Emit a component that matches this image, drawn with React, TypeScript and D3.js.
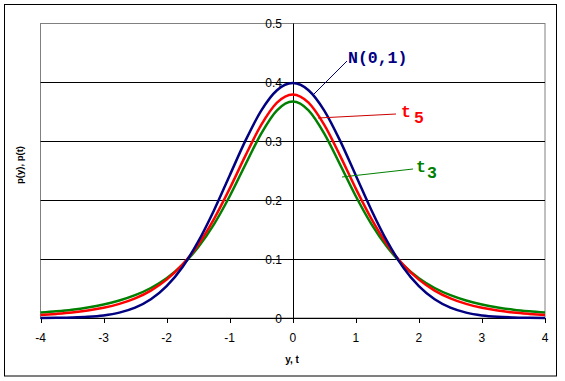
import React from "react";
import * as d3 from "d3";

const xValues = [
  -4, -3.75, -3.5, -3.25, -3, -2.75, -2.5, -2.25, -2, -1.75, -1.5, -1.25, -1, -0.75, -0.5, -0.25,
  0, 0.25, 0.5, 0.75, 1, 1.25, 1.5, 1.75, 2, 2.25, 2.5, 2.75, 3, 3.25, 3.5, 3.75, 4,
];
const normalValues = [
  0.0001, 0.0004, 0.0009, 0.002, 0.0044, 0.0091, 0.0175, 0.0317, 0.054, 0.0863, 0.1295, 0.1826, 0.242, 0.3011, 0.3521, 0.3867,
  0.3989, 0.3867, 0.3521, 0.3011, 0.242, 0.1826, 0.1295, 0.0863, 0.054, 0.0317, 0.0175, 0.0091, 0.0044, 0.002, 0.0009, 0.0004, 0.0001,
];
const t5Values = [
  0.0051, 0.0069, 0.0092, 0.0126, 0.0173, 0.0239, 0.0333, 0.0466, 0.0651, 0.0905, 0.1245, 0.1679, 0.2197, 0.2757, 0.3279, 0.3657,
  0.3796, 0.3657, 0.3279, 0.2757, 0.2197, 0.1679, 0.1245, 0.0905, 0.0651, 0.0466, 0.0333, 0.0239, 0.0173, 0.0126, 0.0092, 0.0069, 0.0051,
];
const t3Values = [
  0.0092, 0.0114, 0.0142, 0.018, 0.023, 0.0297, 0.0387, 0.0509, 0.0675, 0.09, 0.12, 0.1589, 0.2067, 0.2606, 0.3132, 0.3527,
  0.3676, 0.3527, 0.3132, 0.2606, 0.2067, 0.1589, 0.12, 0.09, 0.0675, 0.0509, 0.0387, 0.0297, 0.023, 0.018, 0.0142, 0.0114, 0.0092,
];
const xTicks = [-4, -3, -2, -1, 0, 1, 2, 3, 4];
const yTicks = [0, 0.1, 0.2, 0.3, 0.4, 0.5];
const yTickLabels = ["0", "0.1", "0.2", "0.3", "0.4", "0.5"];

const W = 565;
const H = 381;
const L = 40.5;
const R = 545;
const T = 23.5;
const B = 318;

export default function App() {
  const x = d3.scaleLinear().domain([-4, 4]).range([L, R]);
  const y = d3.scaleLinear().domain([0, 0.5]).range([B, T]);
  const line = (vals: number[]) =>
    d3
      .line<number>()
      .x((_, i) => x(xValues[i]))
      .y((v) => y(v))
      .curve(d3.curveMonotoneX)(vals) as string;

  const axisFont = "Liberation Sans, Arial, sans-serif";
  const labelFont = "Liberation Mono, Courier New, monospace";

  return (
    <svg
      width={W}
      height={H}
      style={{ position: "absolute", left: 0, top: 0, background: "#fff" }}
    >
      <rect x={0} y={0} width={W} height={H} fill="#fff" />
      <rect x={4.5} y={4.5} width={552} height={371.5} fill="none" stroke="#000" strokeWidth={1} />
      {/* plot frame */}
      <rect x={L} y={T} width={R - L} height={B - T} fill="none" stroke="#808080" strokeWidth={1} />
      {/* gridlines */}
      {yTicks.slice(1, 5).map((t) => (
        <line key={t} x1={L} x2={R} y1={Math.round(y(t)) + 0.5} y2={Math.round(y(t)) + 0.5} stroke="#000" strokeWidth={1} />
      ))}
      {/* x axis */}
      <line x1={L} x2={R} y1={B + 0.5} y2={B + 0.5} stroke="#000" />
      {xTicks.map((t) => (
        <g key={t}>
          <line x1={Math.round(x(t)) + 0.5} x2={Math.round(x(t)) + 0.5} y1={B} y2={B + 5} stroke="#000" />
          <text x={x(t)} y={342} textAnchor="middle" fontFamily={axisFont} fontSize={12} fill="#000">
            {t}
          </text>
        </g>
      ))}
      {/* y axis at x=0 */}
      <line x1={Math.round(x(0)) + 0.5} x2={Math.round(x(0)) + 0.5} y1={T} y2={B + 5} stroke="#000" />
      {yTicks.map((t, i) => (
        <text key={t} x={282} y={y(t) + 4.5} textAnchor="end" fontFamily={axisFont} fontSize={12} fill="#000">
          {yTickLabels[i]}
        </text>
      ))}
      {/* axis titles */}
      <text x={292} y={363} textAnchor="middle" fontFamily={axisFont} fontSize={10} fontWeight="bold" fill="#000">
        y, t
      </text>
      <text
        transform={`translate(23,165) rotate(-90)`}
        textAnchor="middle"
        fontFamily={axisFont}
        fontSize={9.5}
        fontWeight="bold"
        fill="#000"
      >
        p(y), p(t)
      </text>
      {/* curves */}
      <path d={line(t3Values)} fill="none" stroke="#008000" strokeWidth={2.5} />
      <path d={line(t5Values)} fill="none" stroke="#ff0000" strokeWidth={2.5} />
      <path d={line(normalValues)} fill="none" stroke="#000080" strokeWidth={2.5} />
      {/* leader lines */}
      <line x1={313} y1={95} x2={347} y2={61} stroke="#000080" strokeWidth={1} />
      <line x1={318} y1={118} x2={396} y2={114} stroke="#cc0000" strokeWidth={1} />
      <line x1={342} y1={177} x2={413} y2={169} stroke="#008000" strokeWidth={1} />
      {/* labels */}
      <text x={348} y={63} fontFamily={labelFont} fontSize={16.5} fontWeight="bold" fill="#000080">
        N(0,1)
      </text>
      <text x={401} y={117} fontFamily={labelFont} fontSize={16.5} fontWeight="bold" fill="#ff0000">
        t
        <tspan x={414} y={123}>5</tspan>
      </text>
      <text x={416} y={172} fontFamily={labelFont} fontSize={16.5} fontWeight="bold" fill="#008000">
        t
        <tspan x={427} y={178}>3</tspan>
      </text>
    </svg>
  );
}
